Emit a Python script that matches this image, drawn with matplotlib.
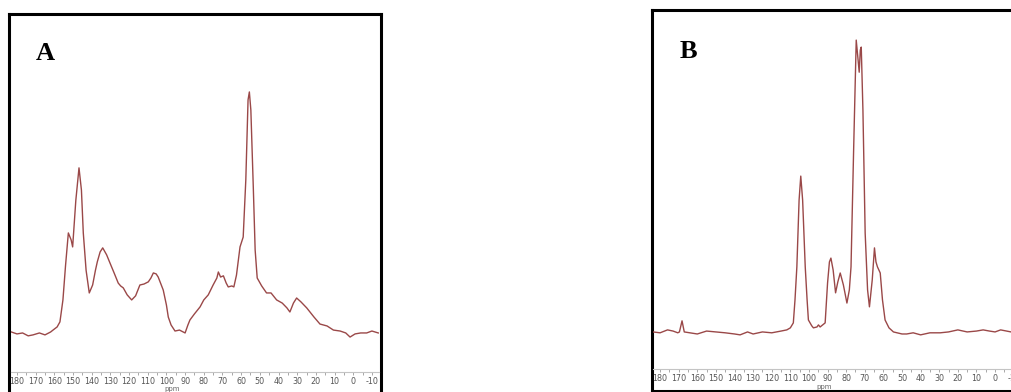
import matplotlib
matplotlib.use('Agg')
import matplotlib.pyplot as plt
from matplotlib.ticker import MultipleLocator

plt.rcParams['axes.unicode_minus'] = False

# spectrum A: chemical shift (ppm) and relative intensity
ppm_a = [183, 180, 177, 174, 171.4, 168, 165, 162, 160.7, 158.5, 157, 155.4, 154,
         152.5, 151, 150.2, 148.5, 146.8, 145.5, 144.5, 143, 141.3, 139.5, 138, 137,
         135.5, 134.1, 132, 130.2, 128, 125.8, 124.5, 123.1, 121, 118.6, 116.5, 114.2,
         112, 109.7, 108.3, 107, 105.5, 104.4, 101.7, 100, 99, 97.5, 95.4, 93, 91, 90,
         88.5, 87.4, 85, 82, 80, 77.6, 75, 73, 72.2, 71, 69.5, 68, 66.9, 65, 63.9,
         62.5, 60.6, 58.9, 57.5, 56.3, 55.6, 54.8, 53.5, 52.5, 51.4, 49, 46.4, 44, 41,
         38, 35.5, 33.9, 32, 30.3, 28, 24.9, 21, 17.8, 14, 10.6, 7, 4, 1.7, -1, -4,
         -7.2, -10, -13.4]
int_a = [0.4, -0.4, 0, -1.2, -0.8, 0, -0.8, 0.4, 1.2, 2.5, 4.6, 13.7, 28,
         41.5, 38.6, 35.7, 55, 68.5, 59.3, 41.5, 26, 16.6, 19.9, 26, 29.5,
         33.6, 35.3, 32.4, 29, 24.9, 20.7, 19.5, 18.7, 15.8, 13.7, 15.4, 19.9,
         20.3, 21.2, 22.8, 24.9, 24.5, 23.2, 17.8, 11.6, 6.6, 3.3, 0.8, 1.2, 0.4, 0,
         3.3, 5.4, 7.9, 10.8, 13.7, 15.8, 19.9, 22.8, 25.3, 23.2, 23.7, 20.7, 19.1, 19.5, 19.1,
         24, 35.7, 39.8, 63.5, 96.7, 100, 92.5, 60.6, 34.4, 22.8, 19.5, 16.6, 16.6, 13.7,
         12.4, 10.4, 8.7, 12.4, 14.5, 12.9, 10.4, 6.6, 3.7, 2.9, 1.2, 0.8, 0, -1.7, -0.4, 0,
         0, 0.8, 0]

# spectrum B
ppm_b = [183.8, 180, 176, 173, 170.5, 169.6, 168.2, 167, 164, 160, 155, 150, 145, 140,
         137, 133, 130, 125, 120, 115, 111.9, 110, 108.4, 107.5, 106.5, 105.3, 104.4,
         103.4, 102, 101, 100.3, 98.5, 97.6, 95.7, 94.9, 94, 91.3, 90, 89, 88.2, 87,
         85.7, 84.5, 83.2, 81.5, 79.6, 78.3, 77.4, 76, 74.6, 73.6, 73, 72.4, 71.9, 71,
         69.8, 68.5, 67.5, 66, 64.8, 64, 63.2, 61.7, 60.5, 59.1, 57, 54.6, 50, 47.5, 44,
         40, 35, 29.5, 25, 20, 15, 10, 6.4, 3, 0, -3, -6.2, -8.6]
int_b = [0, -0.3, 0.7, 0.3, -0.3, 0, 3.8, 0, -0.3, -0.7, 0.3, 0, -0.3, -0.7,
         -1, 0, -0.7, 0, -0.3, 0.3, 0.7, 1.4, 3.1, 11, 22.3, 45.2, 53.4,
         45.2, 22.3, 11, 4.1, 2.1, 1.4, 1.7, 2.4, 1.7, 3.1, 16.8, 24, 25.3, 21.2,
         13.4, 17.1, 20.2, 16.1, 9.9, 14.4, 22.3, 62.3, 100, 93.2, 89, 96.6, 97.6, 76,
         33.9, 14.4, 8.6, 17.8, 28.8, 24, 22.3, 20.2, 11, 4.1, 1.4, 0, -0.7, -0.7, -0.3,
         -1, -0.3, -0.3, 0, 0.7, 0, 0.3, 0.7, 0.3, 0, 0.7, 0.3, 0]

W, H = 1011, 392
line_color = '#9a4848'
tick_font = ['Liberation Sans Narrow', 'DejaVu Sans']


def px_box(l, t, r, b):
    # pixel box (from top-left) -> figure fraction rect
    return [l / W, 1 - b / H, (r - l) / W, (b - t) / H]


def add_frame(fig, box):
    fr = fig.add_axes(px_box(*box))
    fr.set_xticks([])
    fr.set_yticks([])
    fr.patch.set_alpha(0)
    for s in fr.spines.values():
        s.set_linewidth(2.2)
        s.set_color('black')
    return fr


def add_spectrum(fig, box, x, y, xlim, ylim, ppm_x):
    ax = fig.add_axes(px_box(*box))
    ax.plot(x, y, color=line_color, lw=1.0)
    ax.set_xlim(*xlim)
    ax.set_ylim(*ylim)
    ax.patch.set_alpha(0)
    for k in ['left', 'right', 'top']:
        ax.spines[k].set_visible(False)
    ax.spines['bottom'].set_color('#c4c4c4')
    ax.spines['bottom'].set_linewidth(0.8)
    ax.set_yticks([])
    ax.xaxis.set_major_locator(MultipleLocator(10))
    ax.xaxis.set_minor_locator(MultipleLocator(5))
    ax.tick_params(axis='x', which='both', direction='out', color='#999999',
                   length=2.2, width=0.6, pad=1.2, labelsize=5.8, labelcolor='#555555')
    for lab in ax.get_xticklabels():
        lab.set_family(tick_font)
    # ppm label sits just under the tick labels, 17 px below the axis line
    ppm_y = -17.5 / (box[3] - box[1])
    ax.text(ppm_x, ppm_y, 'ppm', transform=ax.get_xaxis_transform(),
            ha='center', va='center', fontsize=5, color='#666666', family=tick_font)
    return ax


fig = plt.figure(figsize=(W / 100, H / 100), dpi=100)

# panel A
add_frame(fig, (8.5, 13.5, 381.5, 410))
add_spectrum(fig, (11, 30, 379, 372), ppm_a, int_a,
             (183.2, -13.8), (-16.2, 125.7), 97)
fig.text(36 / W, 1 - 60 / H, 'A', fontsize=19, fontweight='bold',
         family='Liberation Serif', va='baseline', ha='left')

# panel B
add_frame(fig, (651.5, 9.5, 1030, 390.5))
add_spectrum(fig, (653, 15, 1020, 369), ppm_b, int_b,
             (183.8, -13.4), (-12.7, 108.6), 92)
fig.text(680 / W, 1 - 58 / H, 'B', fontsize=19, fontweight='bold',
         family='Liberation Serif', va='baseline', ha='left')

plt.savefig('out.png', dpi=100)
